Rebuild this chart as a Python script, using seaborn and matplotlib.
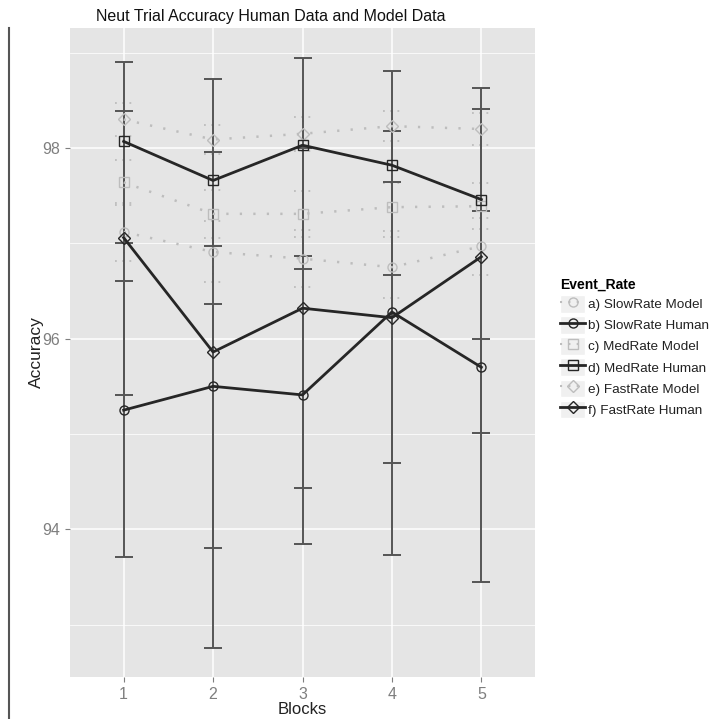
import matplotlib
matplotlib.use('Agg')
import matplotlib.pyplot as plt
from matplotlib.lines import Line2D
from matplotlib.patches import Rectangle
import seaborn as sns
import pandas as pd
import numpy as np

# 데이터
blocks = [1, 2, 3, 4, 5]
rates = ['a) SlowRate Model', 'b) SlowRate Human', 'c) MedRate Model',
         'd) MedRate Human', 'e) FastRate Model', 'f) FastRate Human']

slow_model = [97.12, 96.91, 96.84, 96.75, 96.97]
slow_human = [95.25, 95.50, 95.41, 96.28, 95.70]
med_model = [97.64, 97.31, 97.31, 97.38, 97.39]
med_human = [98.07, 97.66, 98.03, 97.82, 97.46]
fast_model = [98.30, 98.09, 98.15, 98.23, 98.20]
fast_human = [97.06, 95.86, 96.32, 96.22, 96.86]

# human error bars (lower / upper)
slow_human_lo = [93.71, 92.75, 93.85, 94.70, 93.45]
slow_human_hi = [96.61, 96.36, 96.87, 97.64, 97.34]
med_human_lo = [97.00, 96.97, 96.73, 96.67, 96.00]
med_human_hi = [98.90, 98.73, 98.94, 98.81, 98.63]
fast_human_lo = [95.41, 93.80, 94.43, 93.73, 95.01]
fast_human_hi = [98.39, 97.96, 98.00, 98.18, 98.41]

# model error (+/-)
slow_model_err = [0.30, 0.32, 0.30, 0.32, 0.30]
med_model_err = [0.24, 0.25, 0.24, 0.25, 0.24]
fast_model_err = [0.17, 0.15, 0.18, 0.16, 0.17]

values = [slow_model, slow_human, med_model, med_human, fast_model, fast_human]
df = pd.DataFrame({
    'Blocks': blocks * 6,
    'Accuracy': sum(values, []),
    'Event_Rate': np.repeat(rates, 5),
})

model_col = '#bdbdbd'
human_col = '#262626'
bar_col = '#555555'
palette = {r: (model_col if 'Model' in r else human_col) for r in rates}
markers = {rates[0]: 'o', rates[1]: 'o', rates[2]: 's', rates[3]: 's', rates[4]: 'D', rates[5]: 'D'}
dashes = {r: ((0.9, 4.5) if 'Model' in r else '') for r in rates}

plt.rcParams['font.family'] = ['Liberation Sans', 'DejaVu Sans']
fig = plt.figure(figsize=(7.17, 7.19), dpi=100)
ax = fig.add_axes([70 / 717, 1 - 677 / 719, 465 / 717, 649 / 719])
ax.set_facecolor('#e5e5e5')

# error bars - model (dotted)
for vals, err in [(slow_model, slow_model_err), (med_model, med_model_err), (fast_model, fast_model_err)]:
    v = np.array(vals)
    e = np.array(err)
    x = np.array(blocks)
    ax.vlines(x, v - e, v + e, colors=model_col, linestyles=(0, (1, 3)), lw=1.3, zorder=2)
    ax.hlines(v - e, x - 0.1, x + 0.1, colors=model_col, linestyles=(0, (1, 3)), lw=1.3, zorder=2)
    ax.hlines(v + e, x - 0.1, x + 0.1, colors=model_col, linestyles=(0, (1, 3)), lw=1.3, zorder=2)

# error bars - human
for vals, lo, hi in [(slow_human, slow_human_lo, slow_human_hi),
                     (med_human, med_human_lo, med_human_hi),
                     (fast_human, fast_human_lo, fast_human_hi)]:
    v = np.array(vals)
    ax.errorbar(blocks, v, yerr=[v - np.array(lo), np.array(hi) - v], fmt='none',
                ecolor=bar_col, elinewidth=1.4, capsize=6.6, capthick=1.4, zorder=2.5)

sns.lineplot(data=df, x='Blocks', y='Accuracy', hue='Event_Rate', style='Event_Rate',
             palette=palette, markers=markers, dashes=dashes, legend=False, ax=ax,
             hue_order=rates, style_order=rates, lw=1.8, markersize=6.5)

for ln in ax.lines:
    if ln.get_marker() in ('o', 's', 'D'):
        c = matplotlib.colors.to_hex(ln.get_color())
        ln.set_markerfacecolor('none')
        ln.set_markeredgecolor(c)
        ln.set_markeredgewidth(1.0)
        if c == human_col:
            ln.set_linewidth(2.0)
            ln.set_zorder(4)
        else:
            ln.set_zorder(3)

ax.set_xlim(0.4, 5.6)
ax.set_ylim(92.45, 99.26)
ax.set_xticks(blocks)
ax.set_yticks([94, 96, 98])
ax.set_yticks([93, 95, 97, 99], minor=True)
ax.grid(which='major', color='white', lw=1.1)
ax.grid(which='minor', axis='y', color='white', lw=0.55)
ax.set_axisbelow(True)
for s in ax.spines.values():
    s.set_visible(False)
ax.tick_params(which='major', length=3.5, color='#7f7f7f', labelcolor='#7f7f7f', labelsize=11.5, width=0.8)
ax.tick_params(which='minor', length=0)
ax.set_xlabel('Blocks', fontsize=12, color='#222222', labelpad=0)
ax.set_ylabel('Accuracy', fontsize=12.5, color='#222222', labelpad=-1)

fig.text(271 / 717, 1 - 17 / 719, 'Neut Trial Accuracy Human Data and Model Data',
         ha='center', va='center', fontsize=11.5, color='#111111')

# page border line on the left
fig.add_artist(Line2D([9 / 717, 9 / 717], [0, 1 - 28 / 719], color='#555555', lw=1.5))

# legend
handles = []
for r in rates:
    is_model = 'Model' in r
    box = Rectangle((0, 0), 1, 1, facecolor='#f0f0f0', edgecolor='white')
    ln = Line2D([0], [0], color=palette[r], lw=1.5 if is_model else 2.0,
                linestyle=(0, (1, 3)) if is_model else '-',
                marker=markers[r], markersize=6.5, markerfacecolor='none',
                markeredgecolor=palette[r])
    handles.append((box, ln))
leg = fig.legend(handles, rates, loc='upper left', bbox_to_anchor=(551 / 717, 1 - 268 / 719),
                 frameon=False, title='Event_Rate', fontsize=9.7,
                 title_fontproperties={'weight': 'bold', 'size': 10},
                 handlelength=1.8, handleheight=1.6, handletextpad=0.25,
                 labelspacing=0.28, borderpad=0.2, alignment='left')
for t in leg.get_texts():
    t.set_color('#222222')

fig.savefig('out.png', dpi=100)
